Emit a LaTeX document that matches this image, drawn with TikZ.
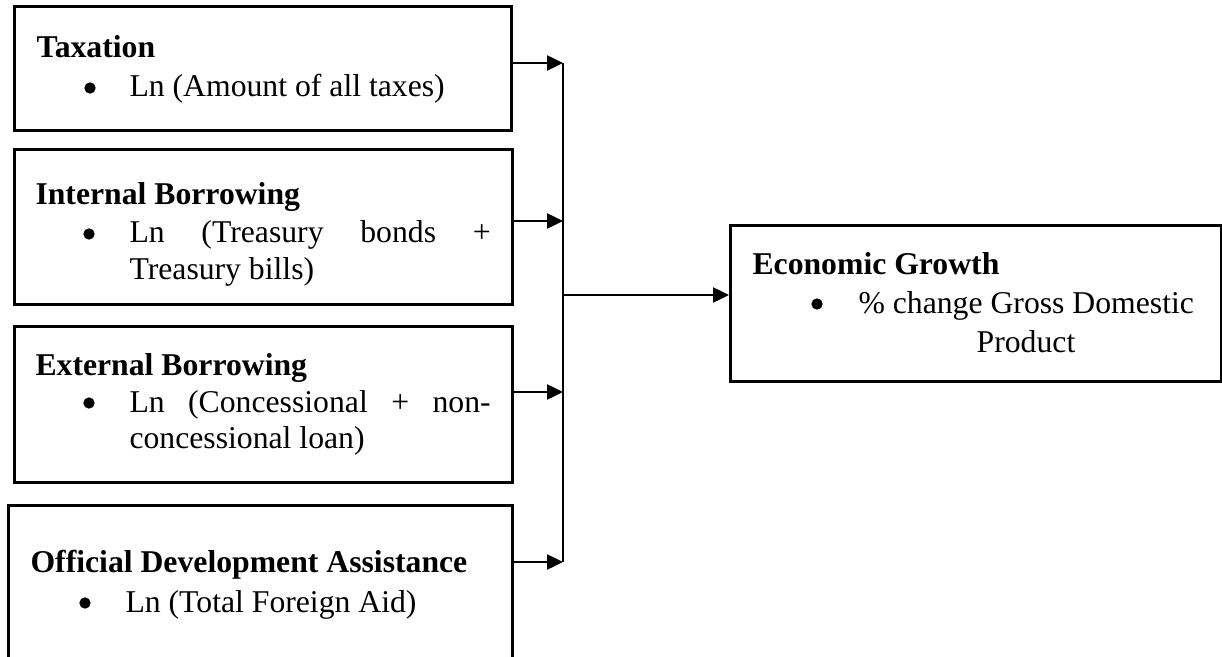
\documentclass[tikz,border=0pt]{standalone}
\usepackage{fontspec}
\setmainfont{Liberation Serif}
\usetikzlibrary{arrows.meta}

\newcommand{\pxu}{0.3785pt}
\newlength{\itemw}
\setlength{\itemw}{136.7pt}

\tikzset{
    box/.style={draw, line width=1pt, inner sep=0pt, anchor=north west},
    head/.style={font=\fontsize{12pt}{14.4pt}\selectfont\bfseries, anchor=base west, inner sep=0pt},
    item/.style={anchor=base west, inner sep=0pt},
    dot/.style={circle, fill, inner sep=0pt, minimum size=4.3pt},
    link/.style={line width=1pt},
}

\begin{document}
\begin{tikzpicture}[x=\pxu, y=-\pxu, font=\fontsize{12pt}{14.4pt}\selectfont,
    >={Triangle[length=6pt,width=5.6pt]}]
    \useasboundingbox (0,0) rectangle (1222,657);
    \clip (0,0) rectangle (1222,657);

    % the four sources
    \node[box, minimum width=497*\pxu, minimum height=124*\pxu] (tax) at (13,5) {};
    \node[head] (taxh) at (36,58) {Taxation};
    \node[dot] (taxd) at (90,88) {};
    \node[item] (taxa) at (129,97) {Ln (Amount of all taxes)};

    \node[box, minimum width=498*\pxu, minimum height=155*\pxu] (intb) at (13,148) {};
    \node[head] (intbh) at (35,205) {Internal Borrowing};
    \node[dot] (intbd) at (89,234) {};
    \node[item] (intba) at (129,243) {\makebox[\itemw][s]{Ln (Treasury bonds +}};
    \node[item] (intbb) at (129,279) {Treasury bills)};

    \node[box, minimum width=498*\pxu, minimum height=156*\pxu] (extb) at (13,325) {};
    \node[head] (extbh) at (35,375) {External Borrowing};
    \node[dot] (extbd) at (89,403) {};
    \node[item] (extba) at (129,412) {\makebox[\itemw][s]{Ln (Concessional + non-}};
    \node[item] (extbb) at (129,448) {concessional loan)};

    \node[box, minimum width=504*\pxu, minimum height=180*\pxu] (oda) at (7,504) {};
    \node[head] (odah) at (30,572) {Official Development Assistance};
    \node[dot] (odad) at (85,603) {};
    \node[item] (odaa) at (125,612) {Ln (Total Foreign Aid)};

    % the outcome
    \node[box, minimum width=491*\pxu, minimum height=156*\pxu] (econ) at (729,224) {};
    \node[head] (econh) at (752,275) {Economic Growth};
    \node[dot] (econd) at (817,304) {};
    \node[item] (econa) at (858,313) {\% change Gross Domestic};
    \node[anchor=base, inner sep=0pt] (econb) at (1026,352) {Product};

    % bus
    \coordinate (j1) at (563,63);
    \coordinate (j2) at (563,221);
    \coordinate (j3) at (563,392);
    \coordinate (j4) at (563,562);
    \coordinate (hub) at (563,295);

    \draw[link,->] (tax.east |- j1) -- (j1);
    \draw[link,->] (intb.east |- j2) -- (j2);
    \draw[link,->] (extb.east |- j3) -- (j3);
    \draw[link,->] (oda.east |- j4) -- (j4);
    \draw[link] (j1) -- (j4);
    \draw[link,->] (hub) -- (econ.west |- hub);
\end{tikzpicture}
\end{document}
